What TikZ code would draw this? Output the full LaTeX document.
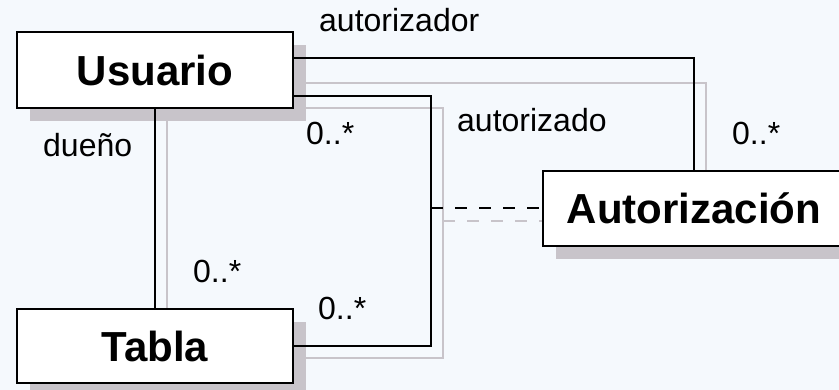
\documentclass[tikz,border=0pt]{standalone}
\usepackage{fontspec}
\setmainfont{Liberation Sans}
\usetikzlibrary{shadows}
\definecolor{paper}{RGB}{245,249,253}
\definecolor{shadowgray}{RGB}{200,196,202}
\pgfdeclarelayer{back}
\pgfdeclarelayer{behind}
\pgfsetlayers{back,behind,main}

\tikzset{
  entity/.style={draw, line width=2.5pt, fill=white, inner sep=0pt,
    font=\fontsize{42}{50}\selectfont\bfseries,
    drop shadow={shadow xshift=13pt, shadow yshift=-13pt, fill=shadowgray, opacity=1}},
  link/.style={line width=2pt},
  shadowlink/.style={line width=2pt, shadowgray},
  role/.style={anchor=base west, inner sep=0pt, font=\fontsize{32}{38}\selectfont},
}

\begin{document}
\begin{tikzpicture}[x=1pt, y=-1pt]
    \useasboundingbox (0,0) rectangle (839,390);
    \begin{pgfonlayer}{back}
        \fill[paper] (0,0) rectangle (839,390);
    \end{pgfonlayer}

    % Entities
    \node[entity, minimum width=276pt, minimum height=76pt] (usuario) at (155,70) {Usuario};
    \node[entity, minimum width=276pt, minimum height=74pt] (tabla) at (155,346) {Tabla};
    \node[entity, minimum width=302pt, minimum height=75pt] (autorizacion) at (694,208.5) {Autorización};

    % Association class hangs off this point
    \coordinate (junction) at (431,208.5);

    % Associations
    \draw[link] ([yshift=12pt]usuario.east) -| (autorizacion.north);
    \draw[link] ([yshift=-26pt]usuario.east) -| (junction) |- (tabla.east);
    \draw[link, dash pattern=on 12pt off 12pt] (junction) -- (autorizacion.west);
    \draw[link] (usuario.south) -- (tabla.north);

    % Line shadows
    \begin{pgfonlayer}{behind}
        \draw[shadowlink] ([shift={(12pt,-13pt)}]usuario.east) -| ([xshift=12pt]autorizacion.north);
        \draw[shadowlink] ([shift={(12pt,-38pt)}]usuario.east) -| ([shift={(12pt,-13pt)}]junction) |- ([yshift=-12pt]tabla.east);
        \draw[shadowlink, dash pattern=on 12pt off 12pt] ([shift={(12pt,-13pt)}]junction) -- ([yshift=-13pt]autorizacion.west);
        \draw[shadowlink] ([xshift=12pt]usuario.south) -- ([xshift=12pt]tabla.north);
    \end{pgfonlayer}

    % Role names and multiplicities
    \node[role] (autorizador) at (319,32) {autorizador};
    \node[role] (autorizado) at (457,132) {autorizado};
    \node[role] (duenio) at (43,157) {dueño};
    \foreach \x/\y/\name in {306/145/mua, 732/145/mub, 193/283/mta, 318/320/mtb} {
        \node[role] (\name) at (\x,\y) {0..*};
    }
\end{tikzpicture}
\end{document}
